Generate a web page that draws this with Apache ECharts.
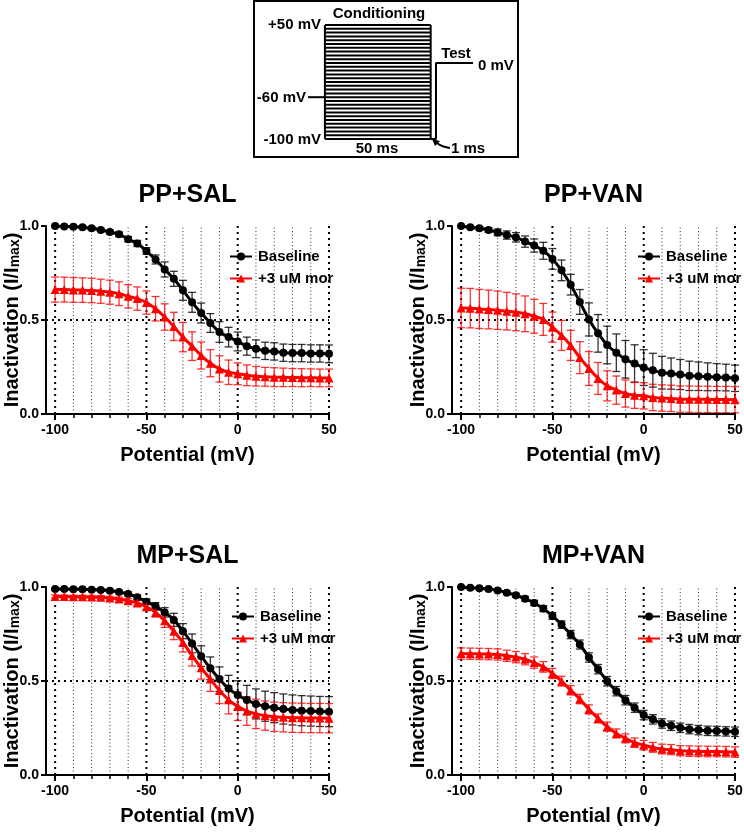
<!DOCTYPE html>
<html>
<head>
<meta charset="utf-8">
<script src="https://cdn.jsdelivr.net/npm/echarts@6/dist/echarts.min.js"></script>
<style>html,body{margin:0;padding:0;background:#fff;}#c{width:744px;height:833px;}</style>
</head>
<body>
<div id="c"></div>
<script>
// ---------- DATA ----------
const voltages = [-100,-95,-90,-85,-80,-75,-70,-65,-60,-55,-50,-45,-40,-35,-30,-25,-20,-15,-10,-5,0,5,10,15,20,25,30,35,40,45,50];

const ppSalBase    = [1.000,0.998,0.996,0.993,0.988,0.979,0.968,0.956,0.930,0.907,0.867,0.822,0.769,0.719,0.658,0.594,0.537,0.484,0.436,0.409,0.386,0.361,0.347,0.336,0.333,0.326,0.324,0.324,0.322,0.322,0.320];
const ppSalBaseErr = [0.003,0.004,0.005,0.006,0.007,0.008,0.010,0.012,0.014,0.016,0.018,0.024,0.040,0.040,0.053,0.053,0.053,0.050,0.055,0.052,0.050,0.048,0.047,0.046,0.046,0.046,0.046,0.046,0.046,0.046,0.047];
const ppSalMor     = [0.662,0.662,0.660,0.659,0.657,0.653,0.648,0.640,0.626,0.614,0.593,0.560,0.516,0.466,0.409,0.361,0.311,0.270,0.240,0.222,0.214,0.206,0.201,0.198,0.196,0.195,0.194,0.193,0.193,0.192,0.192];
const ppSalMorErr  = [0.067,0.066,0.066,0.065,0.065,0.064,0.064,0.063,0.062,0.062,0.062,0.065,0.070,0.075,0.078,0.076,0.072,0.072,0.070,0.065,0.058,0.055,0.052,0.050,0.050,0.049,0.048,0.048,0.047,0.047,0.047];

const ppVanBase    = [1.000,0.993,0.988,0.979,0.966,0.952,0.940,0.917,0.896,0.868,0.825,0.764,0.688,0.596,0.503,0.429,0.367,0.326,0.291,0.268,0.247,0.233,0.220,0.215,0.210,0.203,0.201,0.198,0.196,0.194,0.190];
const ppVanBaseErr = [0.002,0.005,0.008,0.012,0.018,0.022,0.025,0.030,0.035,0.045,0.055,0.055,0.055,0.066,0.088,0.100,0.100,0.100,0.100,0.100,0.095,0.090,0.087,0.083,0.080,0.078,0.076,0.074,0.072,0.071,0.070];
const ppVanMor     = [0.564,0.563,0.559,0.556,0.552,0.547,0.541,0.533,0.520,0.503,0.462,0.418,0.365,0.300,0.242,0.189,0.150,0.127,0.109,0.100,0.097,0.088,0.085,0.083,0.079,0.079,0.078,0.078,0.077,0.077,0.076];
const ppVanMorErr  = [0.105,0.105,0.104,0.103,0.102,0.100,0.098,0.095,0.090,0.085,0.080,0.080,0.080,0.085,0.090,0.085,0.080,0.075,0.072,0.070,0.070,0.070,0.070,0.070,0.070,0.070,0.070,0.070,0.070,0.070,0.070];

const mpSalBase    = [0.989,0.989,0.988,0.988,0.986,0.984,0.980,0.973,0.963,0.945,0.922,0.897,0.865,0.825,0.765,0.700,0.632,0.568,0.510,0.460,0.426,0.399,0.378,0.366,0.358,0.351,0.346,0.342,0.340,0.338,0.337];
const mpSalBaseErr = [0.004,0.004,0.004,0.005,0.005,0.006,0.007,0.008,0.010,0.012,0.015,0.020,0.025,0.035,0.040,0.050,0.055,0.060,0.065,0.070,0.075,0.078,0.080,0.080,0.080,0.080,0.080,0.080,0.080,0.080,0.080];
const mpSalMor     = [0.950,0.950,0.948,0.948,0.947,0.945,0.941,0.936,0.927,0.915,0.895,0.865,0.820,0.765,0.705,0.635,0.570,0.510,0.450,0.400,0.365,0.340,0.325,0.316,0.310,0.307,0.305,0.304,0.303,0.303,0.302];
const mpSalMorErr  = [0.008,0.008,0.008,0.008,0.008,0.009,0.010,0.010,0.012,0.015,0.018,0.025,0.035,0.045,0.050,0.055,0.060,0.065,0.070,0.075,0.075,0.076,0.078,0.078,0.078,0.078,0.078,0.078,0.078,0.078,0.078];

const mpVanBase    = [1.000,0.996,0.993,0.989,0.982,0.970,0.956,0.938,0.915,0.885,0.846,0.800,0.747,0.694,0.625,0.563,0.499,0.446,0.398,0.358,0.319,0.296,0.274,0.262,0.251,0.244,0.239,0.235,0.234,0.232,0.230];
const mpVanBaseErr = [0.002,0.003,0.004,0.005,0.006,0.008,0.010,0.012,0.014,0.016,0.018,0.020,0.022,0.024,0.025,0.025,0.025,0.025,0.025,0.025,0.025,0.025,0.025,0.025,0.025,0.025,0.025,0.025,0.025,0.025,0.025];
const mpVanMor     = [0.646,0.645,0.644,0.643,0.641,0.634,0.627,0.616,0.598,0.575,0.540,0.499,0.451,0.404,0.349,0.301,0.257,0.221,0.195,0.172,0.159,0.147,0.138,0.135,0.129,0.127,0.126,0.125,0.125,0.124,0.122];
const mpVanMorErr  = [0.030,0.030,0.030,0.030,0.030,0.030,0.030,0.030,0.030,0.028,0.027,0.026,0.025,0.025,0.024,0.024,0.024,0.024,0.024,0.025,0.025,0.026,0.026,0.027,0.027,0.028,0.028,0.028,0.028,0.028,0.028];

const panelTitles = ['PP+SAL','PP+VAN','MP+SAL','MP+VAN'];
const seriesNames = ['Baseline','+3 uM mor'];
const xRange      = [-105, 50];
const yRange      = [0, 1];
const yTicks      = [0, 0.5, 1];
const xMajorTicks = [-100,-50,0,50];
const xMinorTicks = [-90,-80,-70,-60,-40,-30,-20,-10,10,20,30,40];
const xGridLines  = [-100,-90,-80,-70,-60,-50,-40,-30,-20,-10,0,10,20,30,40,50];
const yRefLine    = [0.5];

// protocol schematic (mV levels, ms times as drawn in the inset)
const condVoltages = [-100,-95,-90,-85,-80,-75,-70,-65,-60,-55,-50,-45,-40,-35,-30,-25,-20,-15,-10,-5,0,5,10,15,20,25,30,35,40,45,50];
const holdingPath = [[-8,-45],[0,-45]];
const leftEdgePath = [[0,-100],[0,50]];
const rightEdgePath = [[50,-100],[50,50]];
const testPath = [[50,-100],[52.5,-100],[52.5,0],[70,0]];
const condTimes = [0,50];

// ---------- LAYOUT ----------
const F = '"Liberation Sans", Arial, Helvetica, sans-serif';
const PW = 283, PH = 188;
const panelPos = [{l:46,t:226},{l:452,t:226},{l:46,t:587},{l:452,t:587}];
const legendPos = [{l:224,t:244},{l:632,t:244},{l:226,t:604},{l:632,t:604}];
const sets = [
  [ppSalBase,ppSalBaseErr,ppSalMor,ppSalMorErr],
  [ppVanBase,ppVanBaseErr,ppVanMor,ppVanMorErr],
  [mpSalBase,mpSalBaseErr,mpSalMor,mpSalMorErr],
  [mpVanBase,mpVanBaseErr,mpVanMor,mpVanMorErr]
];

function errRender(color){
  return function(params, api){
    const x = api.value(0), y = api.value(1), e = api.value(2);
    const a = api.coord([x, y + e]), b = api.coord([x, y - e]);
    const hw = 4;
    const st = {stroke: color, lineWidth: 1.3};
    return {type:'group', children:[
      {type:'line', shape:{x1:a[0],y1:a[1],x2:b[0],y2:b[1]}, style:st},
      {type:'line', shape:{x1:a[0]-hw,y1:a[1],x2:a[0]+hw,y2:a[1]}, style:st},
      {type:'line', shape:{x1:b[0]-hw,y1:b[1],x2:b[0]+hw,y2:b[1]}, style:st}
    ]};
  };
}
function vGridRender(params, api){
  const x = api.value(0);
  const major = (x % 50 === 0);
  const a = api.coord([x, yRange[0]]), b = api.coord([x, yRange[1]]);
  return {type:'line', shape:{x1:a[0],y1:a[1],x2:b[0],y2:b[1]},
    style: major ? {stroke:'#000', lineWidth:2, lineDash:[2,4]} : {stroke:'#333', lineWidth:1, lineDash:[1,2.5]}};
}
function hGridRender(params, api){
  const y = api.value(1);
  const a = api.coord([xRange[0], y]), b = api.coord([xRange[1], y]);
  return {type:'line', shape:{x1:a[0],y1:a[1],x2:b[0],y2:b[1]}, style:{stroke:'#000', lineWidth:2, lineDash:[2,4]}};
}
function frameRender(params, api){
  // L-shaped axis frame at the axis minimums, with y ticks
  const o = api.coord([xRange[0], yRange[0]]);
  const t = api.coord([xRange[0], yRange[1]]);
  const r = api.coord([xRange[1], yRange[0]]);
  const kids = [{type:'polyline', shape:{points:[t, o, r]}, style:{stroke:'#000', lineWidth:2, fill:null}}];
  yTicks.forEach(v => {
    const p = api.coord([xRange[0], v]);
    kids.push({type:'line', shape:{x1:p[0]-5, y1:p[1], x2:p[0], y2:p[1]}, style:{stroke:'#000', lineWidth:2}});
  });
  return {type:'group', children:kids};
}

const grids = [], xAxes = [], yAxes = [], series = [], legends = [], graphics = [];
const boldTxt = (size) => ({fontFamily:F, fontWeight:'bold', fontSize:size, color:'#000'});

panelPos.forEach((p, i) => {
  grids.push({left:p.l, top:p.t, width:PW, height:PH, containLabel:false, outerBoundsMode:'none'});
  xAxes.push({
    gridIndex:i, type:'value', min:xRange[0], max:xRange[1], position:'bottom',
    axisLine:{show:true, onZero:false, lineStyle:{color:'#000', width:2}},
    axisTick:{customValues:xMajorTicks, length:6, lineStyle:{color:'#000', width:2}},
    axisLabel:Object.assign({customValues:xMajorTicks, margin:9}, boldTxt(14)),
    splitLine:{show:false},
    name:'Potential (mV)', nameLocation:'middle', nameGap:31, nameTextStyle:boldTxt(20)
  });
  xAxes.push({
    gridIndex:i, type:'value', min:xRange[0], max:xRange[1], position:'bottom', offset:0,
    axisLine:{show:false, onZero:false},
    axisTick:{customValues:xMinorTicks, length:4, lineStyle:{color:'#000', width:1.5}},
    axisLabel:{show:false}, splitLine:{show:false}
  });
  yAxes.push({
    gridIndex:i, type:'value', min:yRange[0], max:yRange[1], interval:0.5, position:'left',
    axisLine:{show:true, onZero:false, lineStyle:{color:'#000', width:2}},
    axisTick:{show:true, length:5, lineStyle:{color:'#000', width:2}},
    axisLabel:Object.assign({formatter:(v)=>v.toFixed(1), margin:7}, boldTxt(14)),
    splitLine:{show:false},
    name:'{a|Inactivation (I/I}{b|max}{a|)}', nameLocation:'middle', nameRotate:90, nameGap:24,
    nameMoveOverlap:false,
    nameTextStyle:{rich:{
      a:{fontFamily:F, fontWeight:'bold', fontSize:20, color:'#000', lineHeight:26, verticalAlign:'bottom'},
      b:{fontFamily:F, fontWeight:'bold', fontSize:14, color:'#000', lineHeight:14, verticalAlign:'bottom'}
    }}
  });
  const xi = 2*i, yi = i;
  const [base, baseErr, mor, morErr] = sets[i];
  series.push({type:'custom', xAxisIndex:xi, yAxisIndex:yi, silent:true, z:1,
    data: xGridLines.map(x=>[x, 0]), renderItem:vGridRender});
  series.push({type:'custom', xAxisIndex:xi, yAxisIndex:yi, silent:true, z:1,
    data: yRefLine.map(y=>[0, y]), renderItem:hGridRender});
  series.push({type:'custom', xAxisIndex:xi, yAxisIndex:yi, silent:true, z:5, clip:false,
    data: [[xRange[0], yRange[0]]], renderItem:frameRender});
  series.push({type:'custom', xAxisIndex:xi, yAxisIndex:yi, silent:true, z:2,
    data: voltages.map((v,k)=>[v, base[k], baseErr[k]]), renderItem:errRender('rgba(0,0,0,0.8)')});
  series.push({type:'custom', xAxisIndex:xi, yAxisIndex:yi, silent:true, z:2,
    data: voltages.map((v,k)=>[v, mor[k], morErr[k]]), renderItem:errRender('rgba(255,0,0,0.8)')});
  series.push({type:'line', name:seriesNames[0], xAxisIndex:xi, yAxisIndex:yi, z:3,
    data: voltages.map((v,k)=>[v, base[k]]), smooth:0.4, symbol:'circle', symbolSize:8,
    itemStyle:{color:'#000'}, lineStyle:{color:'#000', width:3}});
  series.push({type:'line', name:seriesNames[1], xAxisIndex:xi, yAxisIndex:yi, z:4,
    data: voltages.map((v,k)=>[v, mor[k]]), smooth:0.4, symbol:'triangle', symbolSize:9,
    itemStyle:{color:'#ff0000'}, lineStyle:{color:'#ff0000', width:3}});
  legends.push({data:seriesNames, orient:'vertical', left:legendPos[i].l, top:legendPos[i].t,
    itemWidth:22, itemHeight:10, itemGap:7, selectedMode:false,
    textStyle:Object.assign({padding:[0,0,0,1]}, boldTxt(15))});
  graphics.push({type:'text', x:p.l + PW/2, y:p.t - 31,
    style:{text:panelTitles[i], font:'bold 25px ' + F, fill:'#000', textAlign:'center', textVerticalAlign:'middle'}});
});

// ---- protocol schematic grid ----
const dg = grids.length;
grids.push({left:308, top:25, width:165, height:114, containLabel:false, outerBoundsMode:'none'});
xAxes.push({gridIndex:dg, type:'value', min:-8, max:70, show:false});
yAxes.push({gridIndex:dg, type:'value', min:-100, max:50, show:false});
const dxi = xAxes.length-1, dyi = yAxes.length-1;
series.push({type:'custom', xAxisIndex:dxi, yAxisIndex:dyi, silent:true,
  data: condVoltages.map(v=>[condTimes[0], v]),
  renderItem:function(params, api){
    const v = api.value(1);
    const a = api.coord([condTimes[0], v]), b = api.coord([condTimes[1], v]);
    return {type:'line', shape:{x1:a[0],y1:a[1],x2:b[0],y2:b[1]}, style:{stroke:'#000', lineWidth:2}};
  }});
[holdingPath, leftEdgePath, rightEdgePath, testPath].forEach(path => {
  series.push({type:'line', xAxisIndex:dxi, yAxisIndex:dyi, silent:true, symbol:'none',
    data:path, lineStyle:{color:'#000', width:2}});
});

const dFont = 'bold 15px ' + F;
const dText = (t, x, y, align) => ({type:'text', x:x, y:y,
  style:{text:t, font:dFont, fill:'#000', textAlign:align, textVerticalAlign:'middle'}});
graphics.push({type:'rect', shape:{x:254, y:1, width:264, height:156}, style:{stroke:'#000', lineWidth:2, fill:null}});
graphics.push(dText('Conditioning', 379, 14, 'center'));
graphics.push(dText('+50 mV', 321, 25, 'right'));
graphics.push(dText('-60 mV', 306, 98, 'right'));
graphics.push(dText('-100 mV', 321, 140, 'right'));
graphics.push(dText('50 ms', 377, 149, 'center'));
graphics.push(dText('Test', 456, 54, 'center'));
graphics.push(dText('0 mV', 478, 66, 'left'));
graphics.push(dText('1 ms', 451, 149, 'left'));
graphics.push({type:'bezierCurve', shape:{x1:450, y1:148, cpx1:442, cpy1:147, x2:437, y2:143}, style:{stroke:'#000', lineWidth:2, fill:null}});
graphics.push({type:'polygon', shape:{points:[[432,139],[440,141],[435,146]]}, style:{fill:'#000'}});

const chart = echarts.init(document.getElementById('c'), null, {renderer:'canvas'});
chart.setOption({
  animation:false,
  backgroundColor:'#fff',
  grid:grids, xAxis:xAxes, yAxis:yAxes, series:series, legend:legends,
  graphic:{elements:graphics}
});
</script>
</body>
</html>
